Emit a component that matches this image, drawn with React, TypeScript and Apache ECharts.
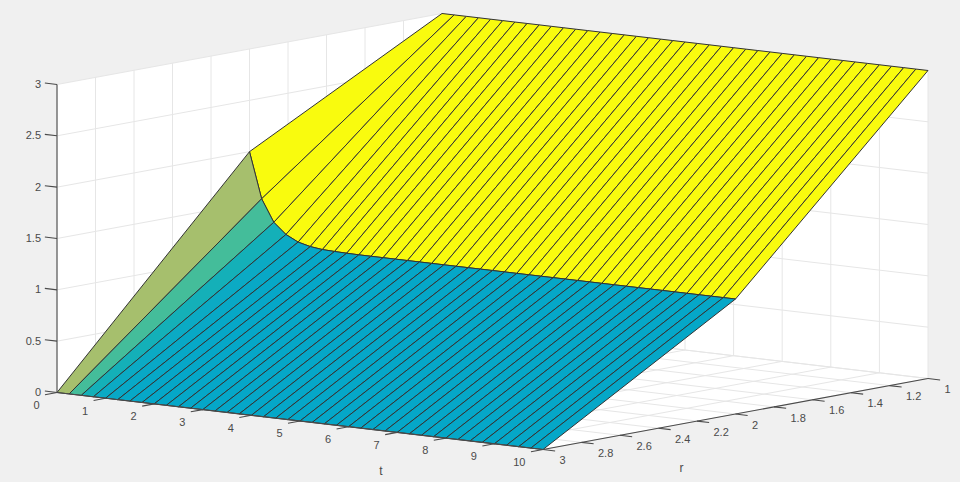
import React, { useEffect, useRef } from "react";
import * as echarts from "echarts";

// ---- data ----
const tGrid = [
  0, 0.25, 0.5, 0.75, 1, 1.25, 1.5, 1.75, 2, 2.25, 2.5, 2.75, 3, 3.25, 3.5, 3.75, 4, 4.25, 4.5, 4.75, 5,
  5.25, 5.5, 5.75, 6, 6.25, 6.5, 6.75, 7, 7.25, 7.5, 7.75, 8, 8.25, 8.5, 8.75, 9, 9.25, 9.5, 9.75, 10,
];
const rGrid = [1, 2, 3];
const zAtR1 = [
  3, 3, 3, 3, 3, 3, 3, 3, 3, 3, 3, 3, 3, 3, 3, 3, 3, 3, 3, 3, 3,
  3, 3, 3, 3, 3, 3, 3, 3, 3, 3, 3, 3, 3, 3, 3, 3, 3, 3, 3, 3,
];
const zAtR2 = [
  2, 1.555, 1.34, 1.235, 1.175, 1.145, 1.13, 1.125, 1.122, 1.12, 1.12, 1.12, 1.12, 1.12, 1.12, 1.12, 1.12, 1.12, 1.12, 1.12, 1.12,
  1.12, 1.12, 1.12, 1.12, 1.12, 1.12, 1.12, 1.12, 1.12, 1.12, 1.12, 1.12, 1.12, 1.12, 1.12, 1.12, 1.12, 1.12, 1.12, 1.12,
];
const zAtR3 = [
  0, 0, 0, 0, 0, 0, 0, 0, 0, 0, 0, 0, 0, 0, 0, 0, 0, 0, 0, 0, 0,
  0, 0, 0, 0, 0, 0, 0, 0, 0, 0, 0, 0, 0, 0, 0, 0, 0, 0, 0, 0,
];
const tTicks = [0, 1, 2, 3, 4, 5, 6, 7, 8, 9, 10];
const rTicks = [1, 1.2, 1.4, 1.6, 1.8, 2, 2.2, 2.4, 2.6, 2.8, 3];
const zTicks = [0, 0.5, 1, 1.5, 2, 2.5, 3];
const colorZ = [1.12, 1.235, 1.34, 1.555, 2, 3];
const colorRGB = [
  [5, 167, 200],
  [11, 170, 196],
  [20, 176, 184],
  [68, 189, 154],
  [166, 191, 109],
  [249, 251, 14],
];

// ---- orthographic view ----
const ORIGIN = [57, 392.5];
const T_VEC = [48.6, 5.7];
const R_VEC = [-192.5, 35.5];
const Z_VEC = [0, -102.67];
const R_REF = 3;
const zSurface = [zAtR1, zAtR2, zAtR3];

type P3 = [number, number, number];
const project = (p: P3): number[] => [
  ORIGIN[0] + p[0] * T_VEC[0] + (p[1] - R_REF) * R_VEC[0] + p[2] * Z_VEC[0],
  ORIGIN[1] + p[0] * T_VEC[1] + (p[1] - R_REF) * R_VEC[1] + p[2] * Z_VEC[1],
];

const colorOf = (z: number): string => {
  let i = 0;
  while (i < colorZ.length - 2 && z > colorZ[i + 1]) i++;
  const f = Math.min(1, Math.max(0, (z - colorZ[i]) / (colorZ[i + 1] - colorZ[i])));
  const c = colorRGB[i].map((v, k) => Math.round(v + (colorRGB[i + 1][k] - v) * f));
  return `rgb(${c[0]},${c[1]},${c[2]})`;
};

const T0 = tTicks[0];
const T1 = tTicks[tTicks.length - 1];
const R0 = rTicks[0];
const R1 = rTicks[rTicks.length - 1];
const Z0 = zTicks[0];
const Z1 = zTicks[zTicks.length - 1];

const walls: P3[][] = [
  [[T0, R1, Z0], [T0, R0, Z0], [T0, R0, Z1], [T0, R1, Z1]],
  [[T0, R0, Z0], [T1, R0, Z0], [T1, R0, Z1], [T0, R0, Z1]],
  [[T0, R1, Z0], [T1, R1, Z0], [T1, R0, Z0], [T0, R0, Z0]],
];

const gridLines: P3[][] = [];
for (const z of zTicks) {
  gridLines.push([[T0, R1, z], [T0, R0, z]]);
  gridLines.push([[T0, R0, z], [T1, R0, z]]);
}
for (const r of rTicks) {
  gridLines.push([[T0, r, Z0], [T0, r, Z1]]);
  gridLines.push([[T0, r, Z0], [T1, r, Z0]]);
}
for (const t of tTicks) {
  gridLines.push([[t, R0, Z0], [t, R0, Z1]]);
  gridLines.push([[t, R1, Z0], [t, R0, Z0]]);
}

type Facet = { pts: P3[]; color: string };
const facets: Facet[] = [];
for (let j = 0; j < rGrid.length - 1; j++) {
  for (let i = 0; i < tGrid.length - 1; i++) {
    facets.push({
      pts: [
        [tGrid[i], rGrid[j], zSurface[j][i]],
        [tGrid[i + 1], rGrid[j], zSurface[j][i + 1]],
        [tGrid[i + 1], rGrid[j + 1], zSurface[j + 1][i + 1]],
        [tGrid[i], rGrid[j + 1], zSurface[j + 1][i]],
      ],
      color: colorOf(zSurface[j][i]),
    });
  }
}

const TICK_T = 0.25;
const TICK_R = 0.0625;
const axisLines: P3[][] = [
  [[T0, R1, Z0], [T0, R1, Z1]],
  [[T0, R1, Z0], [T1, R1, Z0]],
  [[T1, R1, Z0], [T1, R0, Z0]],
];
for (const z of zTicks) axisLines.push([[T0, R1, z], [T0 - TICK_T, R1, z]]);
for (const t of tTicks) axisLines.push([[t, R1, Z0], [t, R1 + TICK_R, Z0]]);
for (const r of rTicks) axisLines.push([[T1, r, Z0], [T1 + TICK_T, r, Z0]]);

type Label = { text: string; at: P3; dx: number; dy: number; align: string; size: number };
const labels: Label[] = [
  ...zTicks.map((z) => ({ text: String(z), at: [T0, R1, z] as P3, dx: -16, dy: -0.5, align: "right", size: 11 })),
  ...tTicks.map((t) => ({ text: String(t), at: [t, R1, Z0] as P3, dx: -17.5, dy: 12.3, align: "right", size: 11 })),
  ...rTicks.map((r) => ({ text: String(r), at: [T1, r, Z0] as P3, dx: 16.5, dy: 10.6, align: "left", size: 11 })),
  { text: "t", at: [5, R1, Z0], dx: 81, dy: 50, align: "center", size: 12 },
  { text: "r", at: [T1, 2, Z0], dx: -54, dy: 53.5, align: "center", size: 12 },
];

export default function App() {
  const ref = useRef<HTMLDivElement>(null);
  useEffect(() => {
    const chart = echarts.init(ref.current!, undefined, { renderer: "svg" });
    const toPoints = (api: any, pts: P3[]) => pts.map((p) => api.coord(project(p)));
    const idx = (list: unknown[]) => list.map((_, i) => [i, 0]);
    const base = { type: "custom", silent: true, clip: false, coordinateSystem: "cartesian2d" };
    chart.setOption({
      animation: false,
      backgroundColor: "#f0f0f0",
      grid: { left: 0, right: 0, top: 0, bottom: 0 },
      xAxis: { type: "value", min: 0, max: 960, show: false },
      yAxis: { type: "value", min: 0, max: 482, inverse: true, show: false },
      series: [
        {
          ...base,
          data: idx(walls),
          renderItem: (p: any, api: any) => ({
            type: "polygon",
            shape: { points: toPoints(api, walls[p.dataIndex]) },
            style: { fill: "#ffffff", stroke: "none" },
          }),
        },
        {
          ...base,
          data: idx(gridLines),
          renderItem: (p: any, api: any) => ({
            type: "polyline",
            shape: { points: toPoints(api, gridLines[p.dataIndex]) },
            style: { fill: "none", stroke: "#e6e6e6", lineWidth: 1 },
          }),
        },
        {
          ...base,
          data: idx(facets),
          renderItem: (p: any, api: any) => ({
            type: "polygon",
            shape: { points: toPoints(api, facets[p.dataIndex].pts) },
            style: {
              fill: facets[p.dataIndex].color,
              stroke: "#333333",
              lineWidth: 1,
              lineJoin: "round",
            },
          }),
        },
        {
          ...base,
          data: idx(axisLines),
          renderItem: (p: any, api: any) => ({
            type: "polyline",
            shape: { points: toPoints(api, axisLines[p.dataIndex]) },
            style: { fill: "none", stroke: "#4a4a4a", lineWidth: 1.1 },
          }),
        },
        {
          ...base,
          data: idx(labels),
          renderItem: (p: any, api: any) => {
            const l = labels[p.dataIndex];
            const c = api.coord(project(l.at));
            return {
              type: "text",
              x: c[0] + l.dx,
              y: c[1] + l.dy,
              style: {
                text: l.text,
                fill: "#4a4a4a",
                font: `${l.size}px "Liberation Sans", Arial, sans-serif`,
                align: l.align,
                verticalAlign: "middle",
              },
            };
          },
        },
      ],
    });
    return () => chart.dispose();
  }, []);
  return (
    <div
      ref={ref}
      style={{ position: "absolute", left: 0, top: 0, width: 960, height: 482 }}
    />
  );
}
